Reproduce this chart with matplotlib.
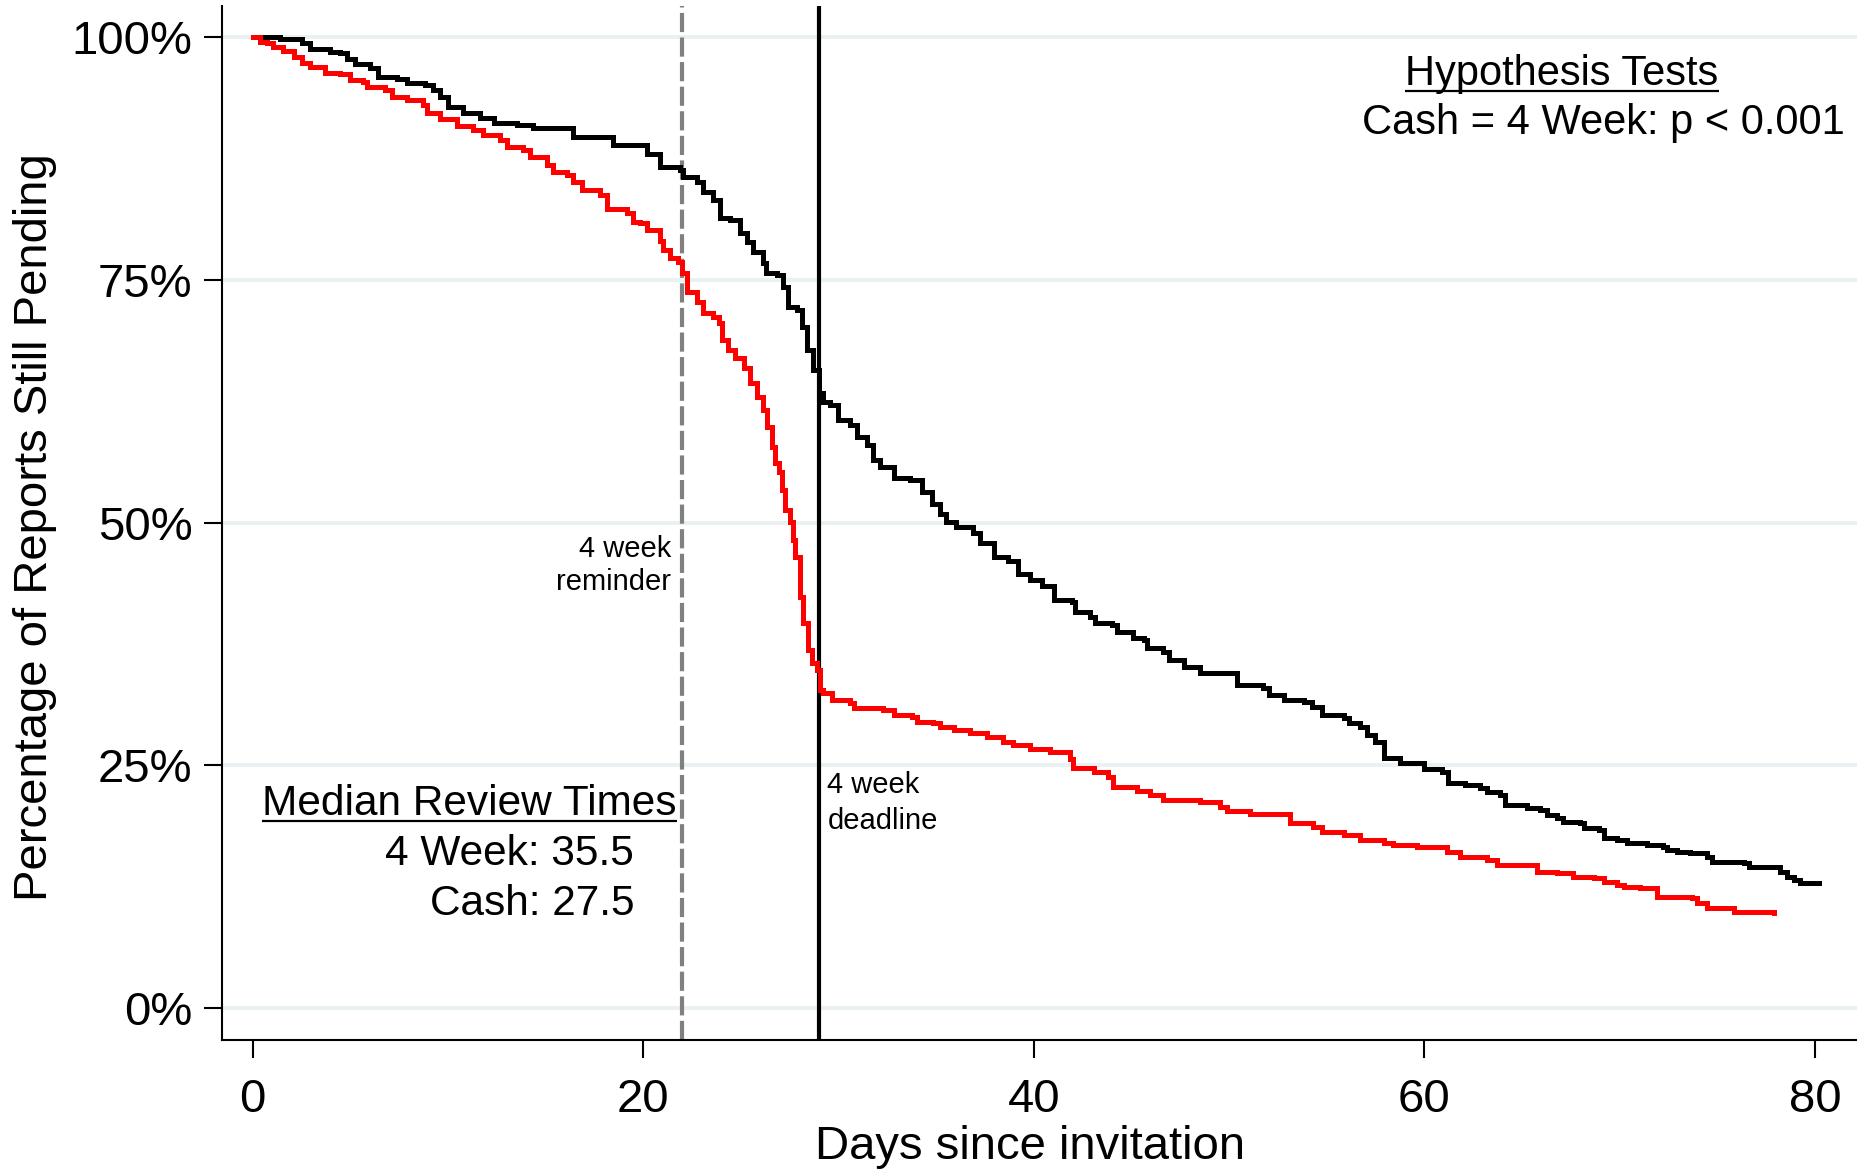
import matplotlib
matplotlib.use('Agg')
import matplotlib.pyplot as plt
import numpy as np

plt.rcParams['font.family'] = ['Liberation Sans', 'DejaVu Sans']

# Kaplan-Meier estimates: share of reports still pending (%) by days since invitation
week4_days = [0, 1.41, 2.52, 2.95, 3.97, 4.49, 4.83, 5.25, 6.02, 6.45, 7.39, 7.90,
              8.84, 9.26, 9.61, 10.03, 10.80, 11.65, 12.34, 13.53, 14.38, 16.43,
              18.48, 20.19, 20.87, 21.89, 22.06, 22.75, 23.09, 23.60, 23.94, 24.45,
              24.96, 25.31, 25.65, 26.16, 26.30, 26.84, 27.18, 27.44, 27.87, 28.12,
              28.38, 28.72, 28.98, 29.23, 29.57, 30.00, 30.60, 30.94, 31.45, 31.79,
              32.13, 32.82, 33.67, 34.30, 34.80, 35.20, 35.50, 36.00, 36.91, 37.25,
              37.94, 38.70, 39.18, 39.82, 40.40, 41.01, 41.95, 42.12, 42.89, 43.14,
              44.00, 44.25, 45.10, 45.62, 45.79, 46.64, 46.90, 47.67, 48.52, 50.40,
              51.76, 52.02, 52.79, 53.81, 54.24, 54.75, 55.86, 56.12, 56.71, 57.05,
              57.48, 57.91, 58.76, 60.00, 60.89, 61.23, 62.09, 62.86, 63.20, 63.88,
              64.14, 65.25, 65.93, 66.27, 66.78, 67.12, 67.98, 68.15, 68.92, 69.17,
              69.85, 70.37, 71.39, 72.24, 72.41, 72.93, 73.61, 74.46, 74.72, 76.34,
              76.60, 78.22, 78.56, 78.90, 79.24, 80.18]
week4_pct = [100, 99.73, 99.39, 98.70, 98.46, 98.29, 97.67, 97.19, 96.75, 95.89, 95.61,
             95.20, 95.03, 94.52, 93.83, 92.80, 92.18, 91.60, 91.09, 90.91, 90.57, 89.65,
             88.86, 87.90, 86.63, 86.28, 85.60, 85.08, 84.05, 83.20, 81.31, 81.14,
             79.77, 78.91, 77.88, 76.68, 75.65, 75.48, 74.28, 72.22, 71.88, 70.16,
             67.76, 65.70, 63.30, 62.44, 62.10, 60.56, 60.04, 58.84, 57.98, 56.44,
             55.75, 54.55, 54.38, 53.10, 51.90, 50.90, 50.10, 49.50, 48.89, 47.86,
             46.49, 46.05, 44.70, 44.09, 43.50, 42.03, 41.86, 40.83, 40.31, 39.63,
             39.46, 38.77, 38.08, 37.91, 37.05, 36.71, 35.85, 35.17, 34.48, 33.28,
             32.94, 32.25, 31.74, 31.57, 31.05, 30.19, 29.85, 29.34, 29.00, 28.14,
             27.45, 25.73, 25.22, 24.60, 24.36, 23.16, 22.99, 22.65, 22.30, 21.96,
             20.93, 20.59, 20.42, 19.90, 19.56, 19.22, 19.05, 18.53, 18.36, 17.50,
             17.33, 16.99, 16.82, 16.64, 16.30, 16.13, 15.96, 15.62, 15.10, 14.93,
             14.59, 14.07, 13.56, 13.21, 12.87, 12.87]

cash_days = [0, 0.39, 0.73, 1.07, 1.58, 2.10, 2.52, 2.95, 3.72, 4.49, 4.99, 5.68, 5.85,
             6.79, 7.13, 7.90, 8.75, 8.92, 9.61, 10.46, 11.31, 11.82, 12.68, 13.02,
             13.87, 14.21, 15.07, 15.41, 16.09, 16.43, 16.86, 17.80, 18.14, 19.16,
             19.50, 19.84, 20.19, 20.87, 21.04, 21.38, 21.81, 21.98, 22.23, 22.75,
             23.09, 23.60, 23.86, 24.03, 24.37, 24.71, 25.14, 25.48, 25.82, 26.16,
             26.33, 26.59, 26.76, 26.95, 27.10, 27.27, 27.52, 27.69, 27.78, 28.04,
             28.21, 28.46, 28.63, 28.89, 29.06, 29.23, 29.66, 30.60, 30.77, 32.30,
             32.82, 33.75, 34.01, 34.86, 35.20, 35.89, 36.74, 37.59, 38.40, 38.96,
             39.82, 40.84, 41.86, 42.03, 43.06, 43.80, 44.08, 45.28, 45.95, 46.64,
             48.52, 49.55, 49.89, 51.08, 53.10, 54.32, 54.75, 55.86, 56.71, 57.91,
             58.40, 59.60, 61.15, 61.83, 63.20, 63.71, 65.76, 66.78, 67.63, 68.66,
             69.17, 69.85, 70.20, 71.05, 71.90, 73.69, 73.95, 74.46, 75.83, 77.88]
cash_pct = [100, 99.49, 99.32, 98.98, 98.56, 97.95, 97.33, 96.92, 96.30, 96.16, 95.55,
            95.37, 94.86, 94.52, 93.83, 93.49, 92.97, 92.12, 91.50, 90.81, 90.40,
            89.88, 89.37, 88.68, 88.34, 87.65, 86.80, 86.11, 85.77, 85.08, 84.22,
            83.71, 82.23, 81.82, 80.97, 80.80, 80.11, 79.00, 78.05, 77.19, 76.85,
            75.65, 73.76, 72.73, 71.53, 71.19, 70.50, 68.79, 67.76, 66.90, 65.87,
            64.33, 62.96, 61.58, 59.87, 57.81, 56.10, 55.20, 53.35, 51.30, 50.10,
            48.21, 46.49, 42.38, 39.63, 36.89, 35.51, 34.83, 32.77, 32.43, 31.74,
            31.40, 30.88, 30.71, 30.20, 30.03, 29.51, 29.34, 29.00, 28.65, 28.31,
            27.97, 27.45, 27.11, 26.70, 26.35, 25.65, 24.70, 24.36, 23.85, 22.82,
            22.40, 22.00, 21.40, 21.20, 20.70, 20.30, 20.00, 19.10, 18.70, 18.18,
            17.84, 17.33, 16.98, 16.80, 16.60, 16.13, 15.62, 15.27, 14.76, 14.07,
            13.90, 13.56, 13.39, 13.04, 12.70, 12.53, 12.36, 11.50, 11.33, 10.81,
            10.30, 9.95, 9.78]

reminder_day = 22
deadline_day = 29

y_ticks = [0, 25, 50, 75, 100]
y_ticklabels = ['0%', '25%', '50%', '75%', '100%']
x_ticks = [0, 20, 40, 60, 80]

fig = plt.figure(figsize=(18.58, 11.70), dpi=100)
ax = fig.add_axes([0.1193, 0.1111, 0.8807, 0.8838])

ax.set_xlim(-1.58, 82.2)
ax.set_ylim(-3.25, 103.16)

for y in y_ticks:
    ax.axhline(y, color='#eaf1f3', lw=2.8, zorder=0)

ax.axvline(reminder_day, color='#808080', lw=3.0, dashes=(4.6, 1.3), zorder=1)
ax.axvline(deadline_day, color='black', lw=3.0, zorder=1)

ax.plot(week4_days, week4_pct, drawstyle='steps-post', color='black', lw=3.6,
        solid_joinstyle='miter', zorder=3)
ax.plot(cash_days, cash_pct, drawstyle='steps-post', color='#ff0000', lw=3.6,
        solid_joinstyle='miter', zorder=3)

for side in ['top', 'right']:
    ax.spines[side].set_visible(False)
for side in ['left', 'bottom']:
    ax.spines[side].set_linewidth(1.5)

ax.set_yticks(y_ticks)
ax.set_yticklabels(y_ticklabels)
ax.set_xticks(x_ticks)
ax.tick_params(axis='both', labelsize=34, length=13, width=1.5, direction='out')
ax.tick_params(axis='y', pad=8)
ax.tick_params(axis='x', pad=14)

fig.text(35.5 / 1858, 1 - 527 / 1170, 'Percentage of Reports Still Pending',
         rotation=90, ha='center', va='center', fontsize=34)
fig.text(1030 / 1858, 1 - 1147 / 1170, 'Days since invitation',
         ha='center', va='center', fontsize=34)

# annotations for the two vertical markers
ax.text(21.42, 46.5, '4 week', ha='right', va='baseline', fontsize=21)
ax.text(21.42, 43.05, 'reminder', ha='right', va='baseline', fontsize=21)
ax.text(29.43, 22.15, '4 week', ha='left', va='baseline', fontsize=21)
ax.text(29.43, 18.45, 'deadline', ha='left', va='baseline', fontsize=21)

# summary boxes
hyp_base = 95.0
med_base = 19.9
t_hyp = ax.text(67.05, hyp_base, 'Hypothesis Tests', ha='center', va='baseline', fontsize=30)
ax.text(81.5, 90.0, 'Cash = 4 Week: p < 0.001', ha='right', va='baseline', fontsize=30)
t_med = ax.text(0.49, med_base, 'Median Review Times', ha='left', va='baseline', fontsize=30.5)
ax.text(19.54, 14.8, '4 Week: 35.5', ha='right', va='baseline', fontsize=30.5)
ax.text(19.54, 9.6, 'Cash: 27.5', ha='right', va='baseline', fontsize=30.5)

# underline the two headings
fig.canvas.draw()
renderer = fig.canvas.get_renderer()
inv = ax.transData.inverted()
for t, base in [(t_hyp, hyp_base), (t_med, med_base)]:
    bb = t.get_window_extent(renderer)
    x0 = inv.transform((bb.x0, 0))[0]
    x1 = inv.transform((bb.x1, 0))[0]
    ax.plot([x0, x1], [base - 0.6, base - 0.6], color='black', lw=1.6,
            solid_capstyle='butt', zorder=4)

fig.savefig('out.png', dpi=100, facecolor='white')
